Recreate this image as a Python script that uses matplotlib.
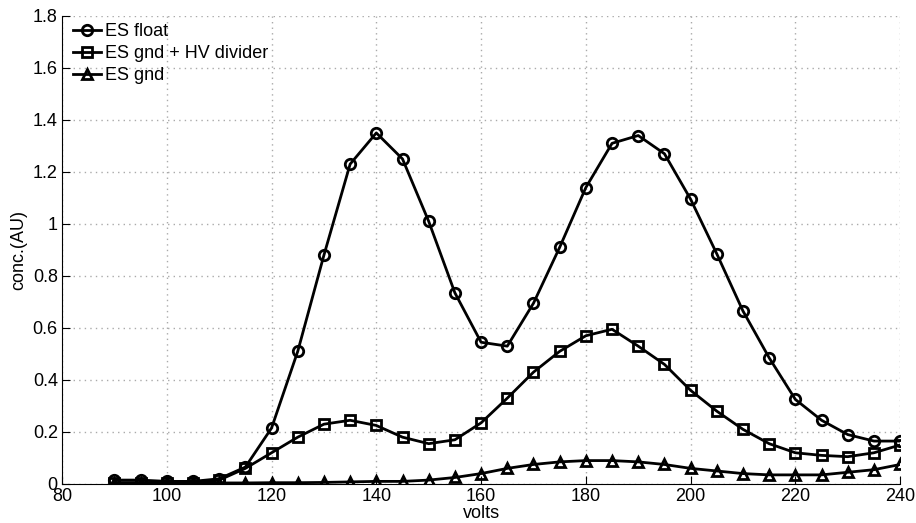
import matplotlib
matplotlib.use('Agg')
import matplotlib.pyplot as plt
import numpy as np

plt.rcParams['font.family'] = ['Liberation Sans', 'DejaVu Sans']

volts = list(range(90, 245, 5))

es_float = [0.015, 0.015, 0.01, 0.01, 0.02, 0.065, 0.215, 0.51, 0.88, 1.23,
            1.35, 1.25, 1.01, 0.735, 0.545, 0.53, 0.695, 0.91, 1.14, 1.31,
            1.34, 1.27, 1.095, 0.885, 0.665, 0.485, 0.325, 0.245, 0.19, 0.165,
            0.165]
es_gnd_hv = [0.005, 0.005, 0.005, 0.005, 0.015, 0.06, 0.12, 0.18, 0.23, 0.245,
             0.225, 0.18, 0.155, 0.17, 0.235, 0.33, 0.43, 0.51, 0.57, 0.595,
             0.53, 0.46, 0.36, 0.28, 0.21, 0.155, 0.12, 0.11, 0.105, 0.12,
             0.15]
es_gnd = [0.004, 0.004, 0.004, 0.004, 0.004, 0.004, 0.005, 0.005, 0.006, 0.008,
          0.01, 0.01, 0.015, 0.025, 0.04, 0.06, 0.075, 0.085, 0.09, 0.09,
          0.085, 0.075, 0.06, 0.05, 0.04, 0.035, 0.035, 0.035, 0.045, 0.055,
          0.075]

fig = plt.figure(figsize=(9.16, 5.23), dpi=100)
ax = fig.add_axes([0.0677, 0.0746, 0.915, 0.895])

style = dict(color='k', lw=2, markersize=7.5, markerfacecolor='none',
             markeredgewidth=2)
ax.plot(volts, es_float, marker='o', label='ES float', **style)
ax.plot(volts, es_gnd_hv, marker='s', label='ES gnd + HV divider',
        **dict(style, markersize=6.5))
ax.plot(volts, es_gnd, marker='^', label='ES gnd', **style)

ax.set_xlim(80, 240)
ax.set_ylim(0, 1.8)
ax.set_xticks(np.arange(80, 241, 20))
ax.set_yticks(np.arange(0, 1.81, 0.2))
ax.set_yticklabels(['0', '0.2', '0.4', '0.6', '0.8', '1', '1.2', '1.4', '1.6', '1.8'])
ax.grid(True, linestyle=(0, (1, 3)), color='#aaaaaa', lw=1)
ax.tick_params(direction='in', labelsize=13, length=6, pad=3)
for s in ['top', 'right']:
    ax.spines[s].set_visible(False)

ax.set_xlabel('volts', fontsize=13)
ax.xaxis.set_label_coords(0.5, -0.045)
ax.set_ylabel('conc.(AU)', fontsize=13)
ax.yaxis.set_label_coords(-0.042, 0.5)

ax.legend(loc='upper left', frameon=False, fontsize=13, handlelength=1.55,
          handletextpad=0.2, labelspacing=0.28, borderaxespad=0.0,
          bbox_to_anchor=(0.005, 1.0))

fig.savefig('out.png', dpi=100)
